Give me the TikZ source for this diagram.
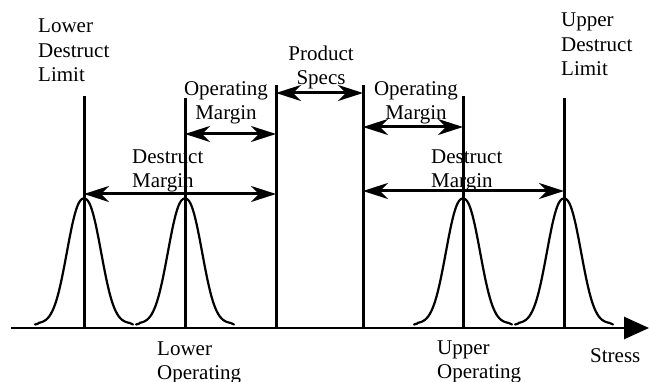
\documentclass[tikz,border=0pt]{standalone}
\usepackage{fontspec}
\setmainfont{Liberation Serif}
\usetikzlibrary{arrows.meta}
\begin{document}
\begin{tikzpicture}[x=1pt,y=-1pt,
  lbl/.style={inner sep=0pt,font=\fontsize{21}{24.5}\selectfont},
  limit/.style={line width=3pt},
  dim/.style={line width=3pt,{Stealth[length=25pt,width=16pt,inset=8pt]}-{Stealth[length=25pt,width=16pt,inset=8pt]}},
  bell/.style={line width=2.2pt,line cap=round,line join=round},
  axisline/.style={line width=2.8pt,-{Triangle[length=25pt,width=22pt]}}]
\useasboundingbox (0,0) rectangle (649,382);

% axis
\coordinate (a0) at (11,328);
\coordinate (a1) at (649,328);
\draw[axisline] (a0) -- (a1);

% vertical limit lines
\coordinate (ldlT) at (84,96);   \coordinate (ldlB) at (84,328);
\coordinate (lolT) at (185,98);  \coordinate (lolB) at (185,328);
\coordinate (slT) at (276,85);   \coordinate (slB) at (276,328);
\coordinate (srT) at (363,85);   \coordinate (srB) at (363,328);
\coordinate (uolT) at (463,96);  \coordinate (uolB) at (463,328);
\coordinate (udlT) at (564,98);  \coordinate (udlB) at (564,328);
\foreach \n in {ldl,lol,sl,sr,uol,udl} \draw[limit] (\n T) -- (\n B);

% dimension arrows
\coordinate (ps1) at (276,93);  \coordinate (ps2) at (363,93);
\coordinate (lom1) at (185,134); \coordinate (lom2) at (276,134);
\coordinate (ldm1) at (84,194);  \coordinate (ldm2) at (276,194);
\coordinate (rom1) at (363,127); \coordinate (rom2) at (463,127);
\coordinate (rdm1) at (363,191); \coordinate (rdm2) at (564,191);
\draw[dim] (ps1) -- (ps2);
\draw[dim] (lom1) -- (lom2);
\draw[dim] (ldm1) -- (ldm2);
\draw[dim] (rom1) -- (rom2);
\draw[dim] (rdm1) -- (rdm2);

% bell curves
\foreach \c in {84,185,463,564}
  \draw[bell] ({\c-49},324.5) -- ({\c-45.5},323.5)
    plot[domain=-45.5:45.5,samples=60,smooth] ({\c+\x},{323.5-125*exp(-((abs(\x)+0.001)/22)^2.3)})
    -- ({\c+49},324.5);

% labels (base anchor = baseline of last line)
\node[lbl,anchor=base west,align=left] (ldl) at (38,82) {Lower\\Destruct\\Limit};
\node[lbl,anchor=base west,align=left] (udl) at (561,76) {Upper\\Destruct\\Limit};
\node[lbl,anchor=base,align=center] (ps) at (321,85) {Product\\Specs};
\node[lbl,anchor=base,align=center] (lom) at (226,120) {Operating\\Margin};
\node[lbl,anchor=base,align=center] (rom) at (416,120) {Operating\\Margin};
\node[lbl,anchor=base west,align=left] (ldm) at (132,188) {Destruct\\Margin};
\node[lbl,anchor=base west,align=left] (rdm) at (431,188) {Destruct\\Margin};
\node[lbl,anchor=base west,align=left] (lol) at (157,380) {Lower\\Operating};
\node[lbl,anchor=base west,align=left] (uol) at (437,379) {Upper\\Operating};
\node[lbl,anchor=base west] (st) at (590,363) {Stress};
\end{tikzpicture}
\end{document}
